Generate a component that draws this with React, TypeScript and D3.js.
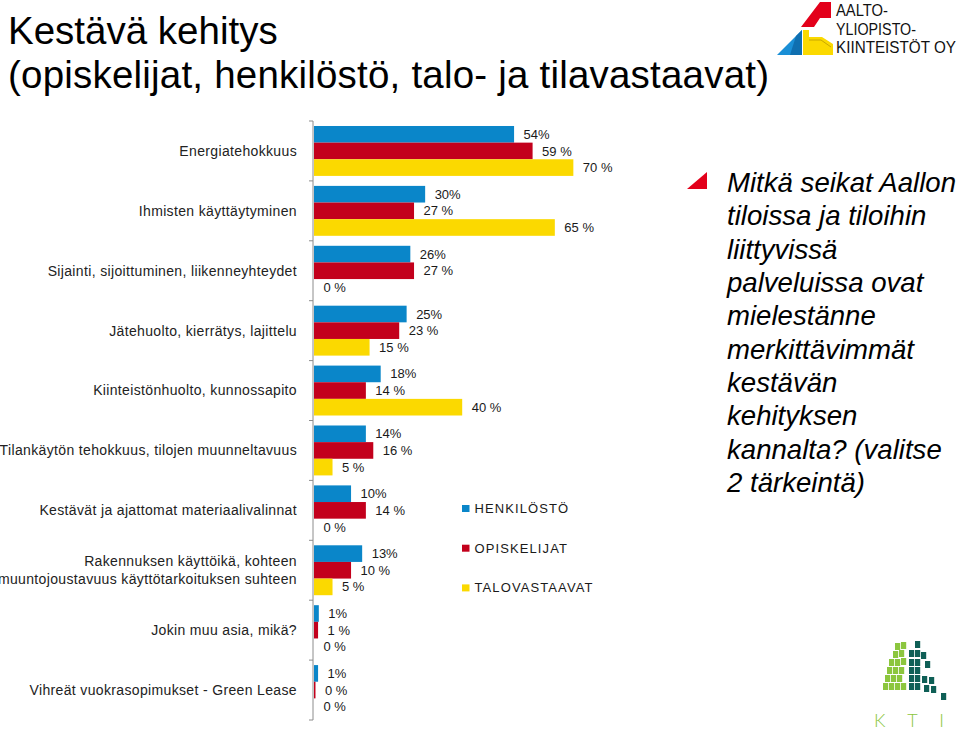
import React from 'react';
import * as d3 from 'd3';

const categories: string[] = [
  'Energiatehokkuus',
  'Ihmisten käyttäytyminen',
  'Sijainti, sijoittuminen, liikenneyhteydet',
  'Jätehuolto, kierrätys, lajittelu',
  'Kiinteistönhuolto, kunnossapito',
  'Tilankäytön tehokkuus, tilojen muunneltavuus',
  'Kestävät ja ajattomat materiaalivalinnat',
  'Rakennuksen käyttöikä, kohteen\nmuuntojoustavuus käyttötarkoituksen suhteen',
  'Jokin muu asia, mikä?',
  'Vihreät vuokrasopimukset - Green Lease',
];

const seriesNames: string[] = ['HENKILÖSTÖ', 'OPISKELIJAT', 'TALOVASTAAVAT'];
const henkilosto: number[] = [54, 30, 26, 25, 18, 14, 10, 13, 1.3, 1.1];
const opiskelijat: number[] = [59, 27, 27, 23, 14, 16, 14, 10, 1.1, 0.4];
const talovastaavat: number[] = [70, 65, 0, 15, 40, 5, 0, 5, 0, 0];
const seriesColors: string[] = ['#0a86c9', '#c3001c', '#fbd900'];

const titleLines: string[] = ['Kestävä kehitys', '(opiskelijat, henkilöstö, talo- ja tilavastaavat)'];
const questionLines: string[] = [
  'Mitkä seikat Aallon',
  'tiloissa ja tiloihin',
  'liittyvissä',
  'palveluissa ovat',
  'mielestänne',
  'merkittävimmät',
  'kestävän',
  'kehityksen',
  'kannalta? (valitse',
  '2 tärkeintä)',
];

const FONT = '"Liberation Sans", Arial, Helvetica, sans-serif';

// decorative KTI logo cells [x, y, dark]
const ktiCells: [number, number, number][] = [
  [895, 643, 0], [901, 642, 0], [915, 641, 1],
  [893, 651, 0], [899, 650, 0], [909, 650, 1], [915, 650, 1], [921, 652, 1],
  [889, 659, 0], [895, 659, 0], [901, 658, 0], [909, 659, 1], [915, 659, 1], [925, 661, 1],
  [887, 667, 0], [893, 667, 0], [899, 667, 0], [909, 667, 1], [915, 667, 1],
  [885, 675, 0], [891, 675, 0], [897, 675, 0], [909, 675, 1], [915, 675, 1], [922, 676, 1], [929, 677, 1],
  [883, 683, 0], [889, 683, 0], [895, 683, 0], [901, 683, 0], [909, 683, 1], [915, 683, 1], [924, 685, 1], [931, 686, 1],
  [941, 693, 1],
];

export default function App() {
  const series = [henkilosto, opiskelijat, talovastaavat];
  const x = d3.scaleLinear().domain([0, 100]).range([314, 684.5]);
  const y = d3.scaleBand<string>().domain(categories).range([121, 720]).paddingInner(0).paddingOuter(0);
  const yi = d3.scaleBand<number>().domain([0, 1, 2]).range([0, y.bandwidth()]).paddingInner(0).paddingOuter(0.3);
  const fmt = (v: number, s: number) => (s === 0 ? `${Math.round(v)}%` : `${Math.round(v)} %`);

  const ticks = [...categories.map((c) => y(c) as number), 720];

  return (
    <svg width={960} height={733} style={{ position: 'absolute', left: 0, top: 0, background: '#fff' }} fontFamily={FONT}>
      <rect width={960} height={733} fill="#fff" />
      {/* Title */}
      <text x={8} y={43.5} fontSize={38.5} fill="#000">{titleLines[0]}</text>
      <text x={8} y={87.5} fontSize={38.5} textLength={761} lengthAdjust="spacing" fill="#000">{titleLines[1]}</text>

      {/* Aalto logo */}
      <g>
        <polygon points="801,27 820,2 831,2 831,18 820,18 814,27" fill="#e3001b" />
        <polygon points="777,55 802,30 802,55" fill="#1a8fd6" />
        <polygon points="796,36 802,30 802,55 790,55" fill="#0f6fb0" />
        <polygon points="803,30 809,30 809,37 822,37 833,44 833,55 803,55" fill="#fbd900" />
        <polyline points="809,40 821,40 831,47" fill="none" stroke="#c9a800" strokeWidth={1} />
        <text x={836} y={16} fontSize={16.5} textLength={52} lengthAdjust="spacingAndGlyphs" fill="#111">AALTO-</text>
        <text x={836} y={34.5} fontSize={16.5} textLength={80} lengthAdjust="spacingAndGlyphs" fill="#111">YLIOPISTO-</text>
        <text x={836} y={53} fontSize={16.5} textLength={120} lengthAdjust="spacingAndGlyphs" fill="#111">KIINTEISTÖT OY</text>
      </g>

      {/* Axis */}
      <line x1={313} x2={313} y1={121} y2={720} stroke="#8c8c8c" strokeWidth={1} />
      {ticks.map((t, i) => (
        <line key={i} x1={309} x2={313} y1={t} y2={t} stroke="#8c8c8c" strokeWidth={1} />
      ))}

      {/* Category labels */}
      {categories.map((c) => {
        const cy = (y(c) as number) + y.bandwidth() / 2;
        const lines = c.split('\n');
        return (
          <text key={c} x={297} y={cy} fontSize={14} letterSpacing={0.35} textAnchor="end" fill="#222">
            {lines.map((l, i) => (
              <tspan key={i} x={297} y={cy + (i - (lines.length - 1) / 2) * 18} dy="0.35em">{l}</tspan>
            ))}
          </text>
        );
      })}

      {/* Bars */}
      {categories.map((c, ci) => (
        <g key={c} transform={`translate(0,${y(c)})`}>
          {series.map((s, si) => {
            const v = s[ci];
            const by = yi(si) as number;
            const w = x(v) - x(0);
            return (
              <g key={si}>
                {w > 0 && <rect x={x(0)} y={by} width={w} height={yi.bandwidth()} fill={seriesColors[si]} />}
                <text x={x(v) + 9.5} y={by + yi.bandwidth() / 2} dy="0.35em" fontSize={13} fill="#1a1a1a">
                  {fmt(v, si)}
                </text>
              </g>
            );
          })}
        </g>
      ))}

      {/* Legend */}
      {seriesNames.map((n, i) => (
        <g key={n} transform={`translate(462,${505 + i * 39.7})`}>
          <rect x={0} y={0} width={7.5} height={7} fill={seriesColors[i]} />
          <text x={12.5} y={7.8} fontSize={13} letterSpacing={1.1} fill="#1a1a1a">{n}</text>
        </g>
      ))}

      {/* Question */}
      <polygon points="687,189 707,189 707,172" fill="#e3001b" />
      {questionLines.map((l, i) => (
        <text key={i} x={727} y={192 + i * 33.35} fontSize={27.6} fontStyle="italic" fill="#000">{l}</text>
      ))}

      {/* KTI logo */}
      <g>
        {ktiCells.map(([cx, cy, d], i) => (
          <rect key={i} x={cx} y={cy} width={5.2} height={7} fill={d ? '#0f5f56' : '#8cc63e'} />
        ))}
        <text x={874} y={727} fontSize={18} fontWeight={300} textLength={70} lengthAdjust="spacing" fill="#8cc63e" fontFamily="Lato, sans-serif">KTI</text>
      </g>
    </svg>
  );
}
